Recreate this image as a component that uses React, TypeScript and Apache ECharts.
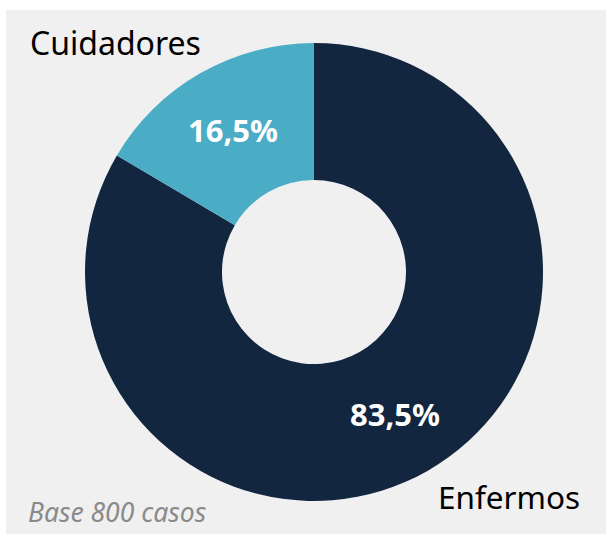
import React, { useEffect, useRef } from "react";
import * as echarts from "echarts";

const categories = ["Enfermos", "Cuidadores"];
const values = [83.5, 16.5];
const colors = ["#12263f", "#4bacc6"];
const baseNote = "Base 800 casos";

export default function App() {
  const ref = useRef<HTMLDivElement>(null);
  useEffect(() => {
    const chart = echarts.init(ref.current!, null, { renderer: "svg" });
    chart.setOption({
      animation: false,
      backgroundColor: "#ffffff",
      graphic: [
        { type: "rect", shape: { x: 6, y: 10, width: 600, height: 524 }, style: { fill: "#f0f0f0" }, z: -10 },
        {
          type: "text", left: 30, top: 26,
          style: { text: categories[1], font: "32px 'Noto Sans'", fill: "#000" },
        },
        {
          type: "text", left: 438, top: 480,
          style: { text: categories[0], font: "31.5px 'Noto Sans'", fill: "#000" },
        },
        {
          type: "text", left: 28, top: 498,
          style: { text: baseNote, font: "italic 26.5px 'Noto Sans'", fill: "#8a8a8a" },
        },
      ],
      series: [
        {
          type: "pie",
          center: [314, 272],
          radius: [92, 229],
          startAngle: 90,
          clockwise: true,
          data: categories.map((c, i) => ({ name: c, value: values[i], itemStyle: { color: colors[i] } })),
          label: {
            show: true,
            position: "inside",
            formatter: (p: any) => p.value.toFixed(1).replace(".", ",") + "%",
            color: "#ffffff",
            fontSize: 31,
            fontWeight: "bold",
            fontFamily: "'Noto Sans'",
          },
          labelLine: { show: false },
          emphasis: { disabled: true },
        },
      ],
    });
    return () => chart.dispose();
  }, []);
  return <div ref={ref} style={{ position: "absolute", left: 0, top: 0, width: 608, height: 534 }} />;
}
